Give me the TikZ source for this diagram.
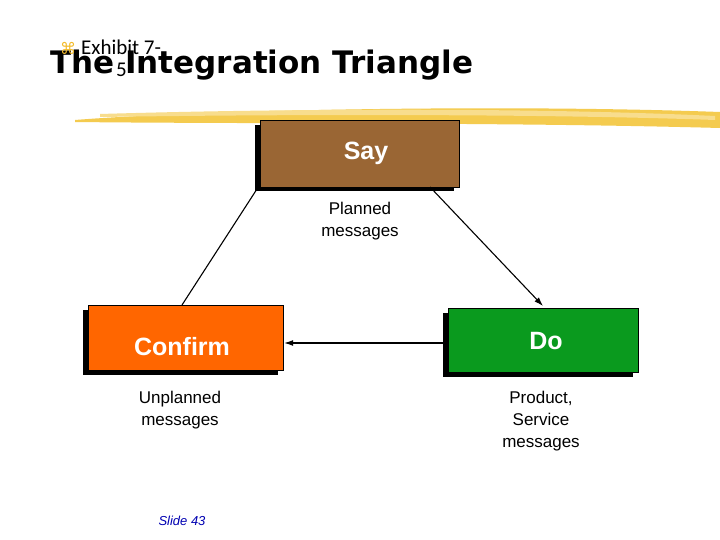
\documentclass[tikz,border=0pt]{standalone}
\usepackage{fontspec}
\usetikzlibrary{arrows.meta}
\setmainfont{Liberation Sans}
\newfontfamily\djvfont{DejaVu Sans}
\newfontfamily\carfont{Carlito}
\definecolor{brn}{HTML}{9A6634}
\definecolor{org}{HTML}{FF6600}
\definecolor{grn}{HTML}{0A9A1E}
\definecolor{gold}{HTML}{F2C230}
\begin{document}
\begin{tikzpicture}[x=1pt,y=-1pt,
  box/.style={draw=black,line width=1.2pt,minimum width=#1,inner sep=0pt},
  boxtext/.style={font=\fontsize{25}{30}\bfseries,text=white},
  lbl/.style={font=\fontsize{17}{22}\selectfont,align=center},
  conn/.style={line width=1.1pt},
  arr/.style={conn,-{Latex[length=9pt,width=6pt]}}]
\useasboundingbox (0,0) rectangle (720,540);
\fill[white] (0,0) rectangle (720,540);
% brush stroke
\fill[gold!85] (75,120) .. controls (200,110) and (500,104) .. (720,112) -- (720,128) .. controls (500,122) and (250,124) .. (75,122) -- cycle;
\fill[gold!55] (100,114) .. controls (300,108) and (550,108) .. (715,116) -- (715,120) .. controls (550,114) and (300,114) .. (100,117) -- cycle;
% title
\node[anchor=base west,inner sep=0pt,font=\djvfont\fontsize{31}{34}\bfseries] (title) at (50,74) {The Integration Triangle};
\node[anchor=base west,inner sep=0pt,text=gold!90!orange,font=\djvfont\fontsize{16}{18}\selectfont] (cmd) at (60,55) {⌘};
\node[anchor=base west,inner sep=0pt,font=\carfont\fontsize{21}{24}\selectfont] (ex) at (81,55) {Exhibit 7-};
\node[anchor=base west,inner sep=0pt,font=\carfont\fontsize{21}{24}\selectfont] (ex5) at (116,77) {5};
% shadows
\fill (255,125) rectangle (454,191);
\fill (83,310) rectangle (278,375);
\fill (443,313) rectangle (633,377);
% boxes
\node[box=199pt,minimum height=67pt,fill=brn,anchor=north west] (say) at (260,120) {};
\node[boxtext] (saytxt) at (366,153) {Say};
\node[box=195pt,minimum height=65pt,fill=org,anchor=north west] (confirm) at (88,305) {};
\node[boxtext] (conftxt) at (182,347) {Confirm};
\node[box=190pt,minimum height=64pt,fill=grn,anchor=north west] (do) at (448,308) {};
\node[boxtext] (dotxt) at (546,341) {Do};
% labels
\node[lbl] (pm) at (360,221) {Planned\\messages};
\node[lbl] (um) at (180,410) {Unplanned\\messages};
\node[lbl] (ps) at (541,421) {Product,\\Service\\messages};
\node[font=\itshape\fontsize{13}{15}\selectfont,text=blue!70!black] (slide) at (182,521) {Slide 43};
% connectors
\coordinate (a1) at (257,189); \coordinate (a2) at (182,305);
\draw[conn] (a1) -- (a2);
\coordinate (b1) at (430,187); \coordinate (b2) at (543,306);
\draw[arr] (b1) -- (b2);
\draw[arr] (do.west |- 0,343) -- (confirm.east |- 0,343);
\end{tikzpicture}
\end{document}
